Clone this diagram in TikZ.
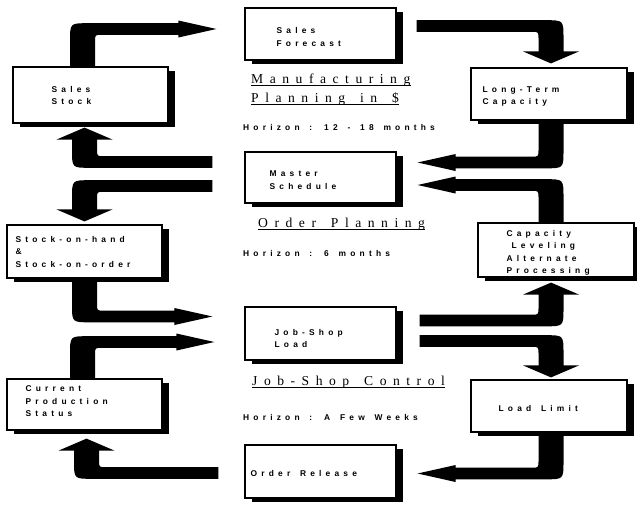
\documentclass[tikz,border=0pt]{standalone}
\usepackage{fontspec}
\setmainfont{Liberation Serif}
\newfontfamily\boxfont[LetterSpace=50,WordSpace=1.5]{Liberation Sans}
\newfontfamily\titlefont[LetterSpace=48,WordSpace=1.5]{Liberation Serif}
\usetikzlibrary{calc,shadows}
\pgfdeclarelayer{background}
\pgfsetlayers{background,main}

% arrow dimensions
\def\ahT{5.8pt}  % half thickness of a horizontal shaft
\def\avW{12.5pt} % half width of a vertical shaft
\def\aRo{18pt}   % outer bend radius
\def\aRi{7pt}    % inner bend radius
\def\aHl{38pt}   % length of a horizontal head
\def\aHw{8.5pt}  % half height of a horizontal head
\def\aVl{12pt}   % length of a vertical head
\def\aVw{28pt}   % half width of a vertical head

% bent arrow: horizontal tail at #1, bend, vertical head with tip at #2
\newcommand\armHV[2]{%
  \fill let \p1=(#1), \p2=(#2),
    \n1={2*(\x2>\x1)-1}, \n2={2*(\y2>\y1)-1} in
    ({\x1},{\y1-\n2*\ahT})
    -- ({\x2+\n1*(\avW-\aRo)},{\y1-\n2*\ahT})
    .. controls ({\x2+\n1*\avW},{\y1-\n2*\ahT}) .. ({\x2+\n1*\avW},{\y1-\n2*(\ahT-\aRo)})
    -- ({\x2+\n1*\avW},{\y2-\n2*\aVl})
    -- ({\x2+\n1*\aVw},{\y2-\n2*\aVl})
    -- (\x2,\y2)
    -- ({\x2-\n1*\aVw},{\y2-\n2*\aVl})
    -- ({\x2-\n1*\avW},{\y2-\n2*\aVl})
    -- ({\x2-\n1*\avW},{\y1+\n2*(\ahT+\aRi)})
    .. controls ({\x2-\n1*\avW},{\y1+\n2*\ahT}) .. ({\x2-\n1*(\avW+\aRi)},{\y1+\n2*\ahT})
    -- ({\x1},{\y1+\n2*\ahT}) -- cycle;}

% bent arrow: vertical tail at #1, bend, horizontal head with tip at #2
\newcommand\armVH[2]{%
  \fill let \p1=(#1), \p2=(#2),
    \n1={2*(\x2>\x1)-1}, \n2={2*(\y2>\y1)-1} in
    ({\x1-\n1*\avW},\y1)
    -- ({\x1-\n1*\avW},{\y2+\n2*(\ahT-\aRo)})
    .. controls ({\x1-\n1*\avW},{\y2+\n2*\ahT}) .. ({\x1-\n1*(\avW-\aRo)},{\y2+\n2*\ahT})
    -- ({\x2-\n1*\aHl},{\y2+\n2*\ahT})
    -- ({\x2-\n1*\aHl},{\y2+\n2*\aHw})
    -- (\x2,\y2)
    -- ({\x2-\n1*\aHl},{\y2-\n2*\aHw})
    -- ({\x2-\n1*\aHl},{\y2-\n2*\ahT})
    -- ({\x1+\n1*(\avW+\aRi)},{\y2-\n2*\ahT})
    .. controls ({\x1+\n1*\avW},{\y2-\n2*\ahT}) .. ({\x1+\n1*\avW},{\y2-\n2*(\ahT+\aRi)})
    -- ({\x1+\n1*\avW},\y1) -- cycle;}

\tikzset{
  box/.style={draw, line width=1.2pt, fill=white, inner sep=0pt,
    general shadow={fill=black, shadow xshift=7pt, shadow yshift=-4pt}},
  btext/.style={anchor=west, align=left, inner sep=0pt,
    font=\boxfont\bfseries\fontsize{8.4}{12.5}\selectfont},
  htext/.style={anchor=west, inner sep=0pt,
    font=\boxfont\bfseries\fontsize{8.4}{12.5}\selectfont},
  ttext/.style={anchor=base west, inner sep=0pt,
    font=\titlefont\fontsize{13.6}{16}\selectfont},
  uline/.style={line width=1.2pt},
}

\begin{document}
\begin{tikzpicture}[x=1pt,y=-1pt]
\useasboundingbox (0,0) rectangle (637,507);

% boxes
\node[box, minimum width=151pt, minimum height=52pt] (sf) at (320.5,34) {};
\node[box, minimum width=151pt, minimum height=51pt] (ms) at (320.5,177.5) {};
\node[box, minimum width=151pt, minimum height=53pt] (jl) at (320.5,333.5) {};
\node[box, minimum width=151pt, minimum height=53pt] (orl) at (320.5,471.5) {};
\node[box, minimum width=155pt, minimum height=56pt] (ss) at (90.5,95) {};
\node[box, minimum width=155pt, minimum height=53pt] (soh) at (84.5,251.5) {};
\node[box, minimum width=155pt, minimum height=51pt] (cps) at (84.5,404.5) {};
\node[box, minimum width=156pt, minimum height=52pt] (ltc) at (549,94) {};
\node[box, minimum width=156pt, minimum height=54pt] (cl) at (556,250) {};
\node[box, minimum width=156pt, minimum height=52pt] (ll) at (549,406) {};

% arrows, behind the boxes
\begin{pgfonlayer}{background}
\fill[white] (0,0) rectangle (637,507);
\armVH{$(ss.north)+(-8,0)$}{$(sf.west)+(-28,-5)$}
\armHV{$(sf.east)+(20,-8)$}{$(ltc.north)+(2,-4)$}
\armVH{$(ltc.south)+(2,0)$}{$(ms.east)+(21,-15)$}
\armVH{$(cl.north)+(-5,0)$}{$(ms.east)+(21,7.5)$}
\armHV{$(ms.west)+(-32,8.5)$}{$(soh.north)+(0,-3)$}
\armHV{$(ms.west)+(-32,-15.5)$}{$(ss.south)+(-6,4)$}
\armVH{$(soh.south)$}{$(jl.west)+(-32,-17)$}
\armHV{$(jl.east)+(23,-13)$}{$(cl.south)+(-5,5)$}
\armHV{$(jl.east)+(23,7.5)$}{$(ll.north)+(2,-2)$}
\armVH{$(ll.south)+(2,0)$}{$(orl.east)+(21,2)$}
\armHV{$(orl.west)+(-26,1.5)$}{$(cps.south)+(2,8)$}
\armVH{$(cps.north)+(-2,0)$}{$(jl.west)+(-30,8.5)$}
\end{pgfonlayer}

% box labels
\node[btext] (tsf) at ($(sf.west)+(32,3)$) {Sales\\Forecast};
\node[btext] (tms) at ($(ms.west)+(25,2.5)$) {Master\\Schedule};
\node[btext] (tjl) at ($(jl.west)+(30,5)$) {Job-Shop\\Load};
\node[btext] (tor) at ($(orl.west)+(6,1.5)$) {Order Release};
\node[btext] (tss) at ($(ss.west)+(39,0.5)$) {Sales\\Stock};
\node[btext] (tsoh) at ($(soh.west)+(9,0)$) {Stock-on-hand\\\&\\Stock-on-order};
\node[btext] (tcps) at ($(cps.west)+(19,-3)$) {Current\\Production\\Status};
\node[btext] (tltc) at ($(ltc.west)+(12,2.5)$) {Long-Term\\Capacity};
\node[btext] (tcl) at ($(cl.west)+(29,3)$) {Capacity\\\hspace{5pt}Leveling\\Alternate\\Processing};
\node[btext] (tll) at ($(ll.west)+(28,2)$) {Load Limit};

% level titles
\node[ttext] (m1) at (251,83) {Manufacturing};
\node[ttext] (m2) at (251,102) {Planning in \$};
\node[ttext] (m3) at (258,227) {Order Planning};
\node[ttext] (m4) at (252,385) {Job-Shop Control};
\foreach \t in {m1,m2,m3,m4}
  \draw[uline] ([yshift=-2.5pt]\t.base west) -- ([yshift=-2.5pt]\t.base east);

% planning horizons
\node[htext] (h1) at (243,127) {Horizon : 12 - 18 months};
\node[htext] (h2) at (243,253) {Horizon : 6 months};
\node[htext] (h3) at (243,417) {Horizon : A Few Weeks};
\end{tikzpicture}
\end{document}
